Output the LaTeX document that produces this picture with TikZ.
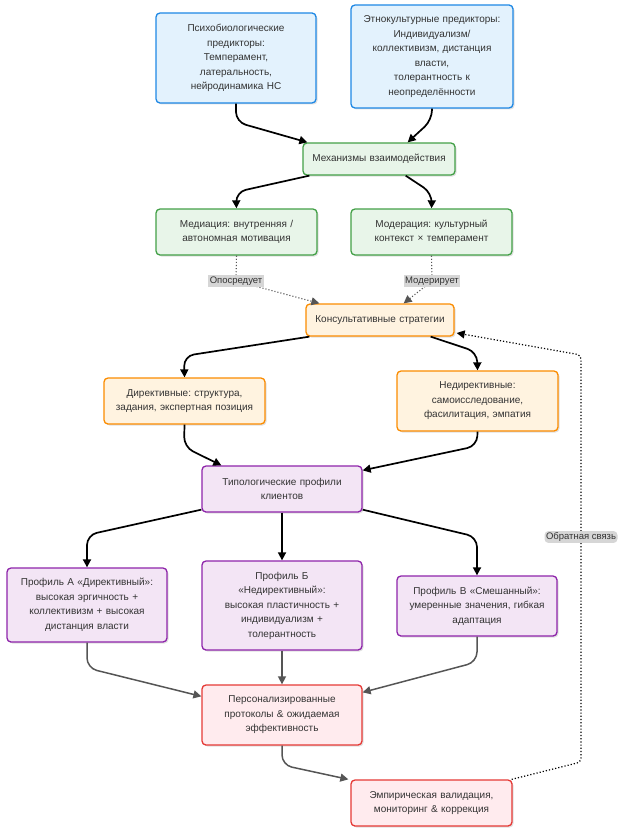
\documentclass[tikz,border=0pt]{standalone}
\usepackage{fontspec}
\setmainfont{Liberation Sans}
\frenchspacing
\usetikzlibrary{arrows.meta,shadows}
\definecolor{txt}{HTML}{333333}
\definecolor{bfill}{HTML}{E3F2FD}\definecolor{bdraw}{HTML}{1E88E5}
\definecolor{gfill}{HTML}{E8F5E9}\definecolor{gdraw}{HTML}{43A047}
\definecolor{ofill}{HTML}{FFF3E0}\definecolor{odraw}{HTML}{FB8C00}
\definecolor{pfill}{HTML}{F3E5F5}\definecolor{pdraw}{HTML}{8E24AA}
\definecolor{rfill}{HTML}{FFEBEE}\definecolor{rdraw}{HTML}{E53935}
\definecolor{gline}{HTML}{555555}
\definecolor{lblgray}{HTML}{D6D6D6}
\tikzset{
  box/.style={rectangle, rounded corners=4pt, line width=1.3pt, inner sep=0pt,
    align=center, text=txt, font=\fontsize{10}{14.5}\selectfont,
    drop shadow={shadow xshift=1.5pt, shadow yshift=-1.5pt, opacity=0.12, fill=black}},
  bluebox/.style={box, fill=bfill, draw=bdraw},
  greenbox/.style={box, fill=gfill, draw=gdraw},
  orangebox/.style={box, fill=ofill, draw=odraw},
  purplebox/.style={box, fill=pfill, draw=pdraw},
  redbox/.style={box, fill=rfill, draw=rdraw},
  arr/.style={line width=1.7pt, draw=black, rounded corners=10pt, -{Triangle[length=8pt,width=8pt]}},
  garr/.style={line width=1.5pt, draw=gline, rounded corners=10pt, -{Triangle[length=8pt,width=8pt]}},
  darr/.style={line width=1.1pt, draw=gline, dotted, -{Triangle[length=8pt,width=8pt]}},
  fbarr/.style={line width=1.2pt, draw=black, dotted, rounded corners=4pt, -{Triangle[length=8pt,width=8pt]}},
  elabel/.style={fill=lblgray, inner sep=1.5pt, text=txt, font=\fontsize{9.5}{11}\selectfont},
}
\begin{document}
\begin{tikzpicture}[x=1pt,y=-1pt]
\useasboundingbox (0,0) rectangle (624,832);
% nodes
\node[bluebox, minimum width=160pt, minimum height=90pt, text width=150pt] (psy) at (236,58)
  {Психобиологические\\ предикторы:\\ Темперамент,\\ латеральность,\\ нейродинамика НС};
\node[bluebox, minimum width=162pt, minimum height=103pt, text width=154pt] (eth) at (432,56.5)
  {Этнокультурные предикторы:\\ Индивидуализм/\\ коллективизм, дистанция\\ власти,\\ толерантность к\\ неопределённости};
\node[greenbox, minimum width=152pt, minimum height=32pt, text width=146pt] (mech) at (379,159)
  {Механизмы взаимодействия};
\node[greenbox, minimum width=161pt, minimum height=46pt, text width=155pt] (med) at (236.5,232)
  {Медиация: внутренняя /\\ автономная мотивация};
\node[greenbox, minimum width=161pt, minimum height=46pt, text width=155pt] (mod) at (431.5,232)
  {Модерация: культурный\\ контекст × темперамент};
\node[orangebox, minimum width=148pt, minimum height=32pt, text width=144pt] (cons) at (380,320)
  {Консультативные стратегии};
\node[orangebox, minimum width=161pt, minimum height=46pt, text width=157pt] (dir) at (184.5,401)
  {Директивные: структура,\\ задания, экспертная позиция};
\node[orangebox, minimum width=161pt, minimum height=60pt, text width=155pt] (nondir) at (477.5,401)
  {Недирективные:\\ самоисследование,\\ фасилитация, эмпатия};
\node[purplebox, minimum width=160pt, minimum height=46pt, text width=154pt] (typ) at (282,489)
  {Типологические профили\\ клиентов};
\node[purplebox, minimum width=160pt, minimum height=74pt, text width=156pt] (pa) at (87,605)
  {Профиль А «Директивный»:\\ высокая эргичность +\\ коллективизм + высокая\\ дистанция власти};
\node[purplebox, minimum width=160pt, minimum height=89pt, text width=156pt] (pb) at (282,605.5)
  {Профиль Б\\ «Недирективный»:\\ высокая пластичность +\\ индивидуализм +\\ толерантность};
\node[purplebox, minimum width=160pt, minimum height=60pt, text width=158pt] (pc) at (477,606)
  {Профиль В «Смешанный»:\\ умеренные значения, гибкая\\ адаптация};
\node[redbox, minimum width=160pt, minimum height=60pt, text width=154pt] (pers) at (282,715)
  {Персонализированные\\ протоколы \& ожидаемая\\ эффективность};
\node[redbox, minimum width=161pt, minimum height=46pt, text width=155pt] (emp) at (431.5,803)
  {Эмпирическая валидация,\\ мониторинг \& коррекция};
% connectors
\draw[arr] (psy.south) -- (236,122) -- ([xshift=5pt]mech.north west);
\draw[arr] (eth.south) -- (432,120) -- ([xshift=-48pt]mech.north east);
\draw[arr] ([xshift=7pt]mech.south west) -- (236,192) -- (med.north);
\draw[arr] ([xshift=-50pt]mech.south east) -- (432,193) -- (mod.north);
\draw[darr] (med.south) -- (236,281) node[elabel] {Опосредует} -- ([xshift=14pt]cons.north west);
\draw[darr] (mod.south) -- (432,281) node[elabel] {Модерирует} -- ([xshift=-51pt]cons.north east);
\draw[arr] ([xshift=4pt]cons.south west) -- (184,356) -- (dir.north);
\draw[arr] ([xshift=-24pt]cons.south east) -- (477,352) -- (nondir.north);
\draw[arr] (dir.south) -- (184,447) -- ([xshift=20pt]typ.north west);
\draw[arr] (nondir.south) -- (477,446) -- ([yshift=-5pt]typ.north east);
\draw[arr] ([yshift=3pt]typ.south west) -- (87,535) -- (pa.north);
\draw[arr] (typ.south) -- (pb.north);
\draw[arr] ([yshift=3pt]typ.south east) -- (477,537) -- (pc.north);
\draw[garr] (pa.south) -- (87,668) -- ([yshift=-12pt]pers.north west);
\draw[garr] (pb.south) -- (pers.north);
\draw[garr] (pc.south) -- (477,662) -- ([yshift=-8pt]pers.north east);
\draw[garr] (pers.south) -- (282,765) -- ([xshift=-2pt]emp.north west);
\draw[fbarr] ([xshift=-1pt]emp.north east) -- (581,762) -- (581,537) node[elabel] {Обратная связь} -- (581,355) -- ([xshift=2pt,yshift=-13pt]cons.east);
\end{tikzpicture}
\end{document}
